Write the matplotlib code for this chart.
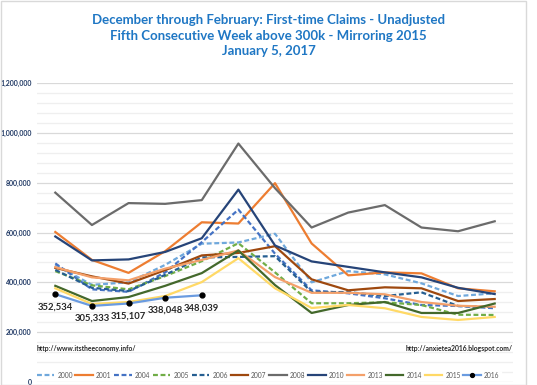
import numpy as np
import matplotlib
matplotlib.use("Agg")
import matplotlib.pyplot as plt
from matplotlib.ticker import MultipleLocator, FuncFormatter

# week index: first week of December through end of February
weeks = list(range(13))

years = ["2000", "2001", "2004", "2005", "2006", "2007", "2008", "2010", "2013", "2014", "2015", "2016"]

c2000 = [470000, 390000, 400000, 470000, 555000, 560000, 595000, 400000, 445000, 432000, 396000, 345000, 356000]
c2001 = [602000, 490000, 438000, 525000, 641000, 636000, 798000, 556000, 428000, 440000, 436000, 376000, 364000]
c2004 = [476000, 372000, 362000, 440000, 561000, 692000, 515000, 368000, 356000, 336000, 309000, 305000, 296000]
c2005 = [445000, 388000, 372000, 425000, 485000, 557000, 440000, 316000, 316000, 320000, 309000, 270000, 269000]
c2006 = [450000, 378000, 365000, 430000, 500000, 502000, 505000, 361000, 361000, 345000, 360000, 305000, 301000]
c2007 = [458000, 424000, 395000, 449000, 508000, 518000, 545000, 412000, 368000, 380000, 376000, 325000, 333000]
c2008 = [760000, 630000, 718000, 715000, 730000, 957000, 778000, 620000, 680000, 710000, 620000, 605000, 645000]
c2010 = [584000, 488000, 492000, 522000, 577000, 772000, 548000, 484000, 462000, 440000, 420000, 378000, 353000]
c2013 = [461000, 420000, 408000, 455000, 490000, 528000, 421000, 358000, 358000, 352000, 321000, 306000, 302000]
c2014 = [386000, 325000, 341000, 386000, 437000, 528000, 389000, 277000, 309000, 321000, 277000, 277000, 315000]
c2015 = [376000, 313000, 321000, 345000, 401000, 497000, 376000, 297000, 309000, 296000, 261000, 249000, 261000]
c2016 = [352534, 305333, 315107, 338048, 348039]

series = [c2000, c2001, c2004, c2005, c2006, c2007, c2008, c2010, c2013, c2014, c2015, c2016]
colors = ["#6FA8DC", "#ED7D31", "#4472C4", "#70AD47", "#255E91", "#9E480E",
          "#6B6B6B", "#264478", "#F4A06A", "#43682B", "#FFD966", "#6A9BE0"]
dashed = ["2000", "2004", "2005", "2006"]

plt.rcParams['font.family'] = ['Lato', 'DejaVu Sans']

fig = plt.figure(figsize=(5.37, 3.85), dpi=100)
ax = fig.add_axes([37/537, 3/385, 476/537, 299/385])

for yr, vals, col in zip(years, series, colors):
    x = weeks[:len(vals)]
    ls = (0, (2.2, 1.2)) if yr in dashed else "-"
    if yr == "2016":
        ax.plot(x, vals, color=col, lw=1.6, marker="o", ms=3.5,
                mfc="black", mec="black", label=yr, zorder=5)
        for xi, v in zip(x, vals):
            ax.annotate(f"{v:,}", (xi, v), xytext=(0, -9), textcoords="offset points",
                        ha="center", va="center", fontsize=6.8, fontweight="bold",
                        color="#262626")
    else:
        ax.plot(x, vals, color=col, lw=1.6, ls=ls, label=yr)

ax.set_xlim(-0.5, 12.5)
ax.set_ylim(0, 1200000)
ax.yaxis.set_major_locator(MultipleLocator(200000))
ax.yaxis.set_minor_locator(MultipleLocator(40000))
ax.yaxis.set_major_formatter(FuncFormatter(lambda v, p: f"{int(v):,}"))
ax.grid(axis="y", which="major", color="#D9D9D9", lw=0.9)
ax.grid(axis="y", which="minor", color="#EFEFEF", lw=0.9)
ax.set_axisbelow(True)
ax.set_xticks([])
for s in ax.spines.values():
    s.set_visible(False)
ax.tick_params(axis="y", which="both", length=0, pad=4, labelsize=5,
               labelcolor="#1F3864")
for lab in ax.get_yticklabels():
    lab.set_fontweight("bold")

fig.text(0.5, 1 - 14/385, "December through February: First-time Claims - Unadjusted\n"
         "Fifth Consecutive Week above 300k - Mirroring 2015\nJanuary 5, 2017",
         ha="center", va="top", fontsize=9.5, fontweight="bold", color="#1F77C4",
         linespacing=1.36)
fig.text(37/537, 1 - 349/385, "http://www.itstheeconomy.info/", fontsize=4.9,
         fontweight="bold", color="#262626", va="center", ha="left")
fig.text(513/537, 1 - 349/385, "http://anxietea2016.blogspot.com/", fontsize=4.9,
         fontweight="bold", color="#262626", va="center", ha="right")

leg = ax.legend(loc="center", bbox_to_anchor=(268/537, 1 - 375/385), bbox_transform=fig.transFigure,
                ncol=12, fontsize=4.8, frameon=True, handlelength=2.6, handletextpad=0.5,
                columnspacing=0.4, borderpad=0.2, labelcolor="#595959", markerscale=0.8)
leg.get_frame().set_edgecolor("white")
leg.get_frame().set_facecolor("white")
leg.get_frame().set_alpha(1)

fig.patches.append(plt.Rectangle((0.002, 0.0), 0.978, 0.997, transform=fig.transFigure,
                                 fill=False, edgecolor="#D9D9D9", lw=1))
fig.savefig("out.png", dpi=100)
